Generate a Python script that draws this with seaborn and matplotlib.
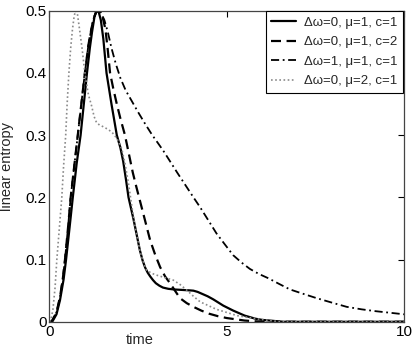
import numpy as np
import pandas as pd
import matplotlib
matplotlib.use("Agg")
import matplotlib.pyplot as plt
import seaborn as sns

# curves (time, linear entropy)
t_a = [0.0, 0.08, 0.2, 0.3, 0.4, 0.47, 0.57, 0.66, 0.77, 0.88, 0.97, 1.06, 1.14, 1.2, 1.27, 1.33,
       1.39, 1.45, 1.52, 1.61, 1.75, 1.9, 2.0, 2.08, 2.16, 2.23, 2.37, 2.46, 2.55, 2.63, 2.7, 2.77,
       2.84, 2.92, 3.0, 3.1, 3.2, 3.35, 3.5, 3.65, 3.8, 3.95, 4.06, 4.18, 4.3, 4.46, 4.62, 4.76,
       4.9, 5.04, 5.18, 5.34, 5.5, 5.65, 5.8, 6.0, 6.2, 6.4, 6.6, 7.0, 8.0, 9.0, 10.0]
s_a = [0.0, 0.0, 0.012, 0.035, 0.068, 0.1, 0.152, 0.2, 0.255, 0.3, 0.35, 0.4, 0.44, 0.465, 0.49, 0.5,
       0.498, 0.485, 0.455, 0.4, 0.35, 0.3, 0.28, 0.258, 0.228, 0.2, 0.165, 0.14, 0.115, 0.098, 0.087, 0.079,
       0.073, 0.067, 0.062, 0.058, 0.055, 0.053, 0.052, 0.0515, 0.051, 0.0505, 0.05, 0.048, 0.045, 0.041, 0.036, 0.031,
       0.026, 0.022, 0.018, 0.014, 0.01, 0.0075, 0.005, 0.003, 0.002, 0.001, 0.0, 0.0, 0.0, 0.0, 0.0]

t_b = [0.0, 0.06, 0.2, 0.3, 0.38, 0.44, 0.52, 0.6, 0.7, 0.8, 0.9, 1.0, 1.1, 1.18, 1.25, 1.31, 1.37,
       1.43, 1.5, 1.58, 1.64, 1.71, 1.8, 1.9, 2.0, 2.13, 2.24, 2.35, 2.45, 2.55, 2.7, 2.84, 2.98,
       3.12, 3.26, 3.4, 3.54, 3.68, 3.87, 4.06, 4.28, 4.5, 4.75, 5.0, 5.25, 5.5, 5.75, 6.0, 7.0, 8.0, 10.0]
s_b = [0.0, 0.0, 0.015, 0.04, 0.07, 0.1, 0.148, 0.2, 0.25, 0.3, 0.35, 0.4, 0.445, 0.47, 0.488, 0.497, 0.5,
       0.498, 0.49, 0.47, 0.44, 0.4, 0.375, 0.35, 0.327, 0.3, 0.27, 0.24, 0.217, 0.195, 0.162, 0.131, 0.108,
       0.088, 0.073, 0.062, 0.05, 0.038, 0.03, 0.024, 0.018, 0.013, 0.009, 0.006, 0.004, 0.002, 0.001, 0.0, 0.0, 0.0, 0.0]

t_c = [0.0, 0.06, 0.2, 0.3, 0.38, 0.44, 0.52, 0.6, 0.7, 0.8, 0.9, 1.0, 1.1, 1.18, 1.25, 1.31, 1.37,
       1.45, 1.55, 1.65, 1.75, 1.87, 2.0, 2.15, 2.32, 2.5, 2.7, 2.9, 3.05, 3.21, 3.4, 3.6, 3.83, 4.06,
       4.25, 4.48, 4.71, 4.95, 5.18, 5.42, 5.65, 5.9, 6.17, 6.47, 6.78, 7.15, 7.53, 7.95, 8.38, 8.8,
       9.2, 9.6, 10.0]
s_c = [0.0, 0.0, 0.015, 0.04, 0.07, 0.1, 0.148, 0.2, 0.25, 0.3, 0.35, 0.4, 0.445, 0.47, 0.488, 0.497, 0.5,
       0.497, 0.485, 0.465, 0.44, 0.415, 0.392, 0.372, 0.355, 0.337, 0.318, 0.3, 0.288, 0.275, 0.258, 0.24, 0.22, 0.2,
       0.184, 0.163, 0.142, 0.124, 0.107, 0.095, 0.085, 0.077, 0.07, 0.061, 0.052, 0.045, 0.038, 0.031, 0.024, 0.02,
       0.017, 0.0145, 0.012]

t_d = [0.0, 0.05, 0.1, 0.16, 0.21, 0.28, 0.35, 0.4, 0.46, 0.5, 0.55, 0.6, 0.65, 0.7, 0.74, 0.79, 0.85,
       0.92, 0.98, 1.04, 1.1, 1.19, 1.26, 1.33, 1.42, 1.5, 1.63, 1.76, 1.9, 2.04, 2.13, 2.23, 2.3,
       2.37, 2.46, 2.55, 2.64, 2.74, 2.88, 3.02, 3.25, 3.49, 3.68, 3.87, 4.06, 4.25, 4.48, 4.71, 5.0,
       5.28, 5.6, 5.94, 6.2, 6.5, 7.0, 8.0, 10.0]
s_d = [0.0, 0.005, 0.02, 0.055, 0.1, 0.15, 0.2, 0.25, 0.3, 0.35, 0.4, 0.44, 0.47, 0.492, 0.5, 0.495, 0.47,
       0.44, 0.41, 0.385, 0.365, 0.347, 0.33, 0.32, 0.316, 0.314, 0.31, 0.305, 0.295, 0.278, 0.255, 0.222, 0.195,
       0.168, 0.14, 0.115, 0.097, 0.083, 0.078, 0.075, 0.071, 0.067, 0.06, 0.051, 0.041, 0.032, 0.026, 0.02, 0.015,
       0.01, 0.007, 0.004, 0.002, 0.0, 0.0, 0.0, 0.0]

labels = ["\u0394\u03c9=0, \u03bc=1, c=1", "\u0394\u03c9=0, \u03bc=1, c=2",
          "\u0394\u03c9=1, \u03bc=1, c=1", "\u0394\u03c9=0, \u03bc=2, c=1"]

sns.set_style("white")
plt.rcParams['font.family'] = ['Liberation Sans', 'DejaVu Sans']

fig = plt.figure(figsize=(4.15, 3.46), dpi=100)
ax = fig.add_axes([0.119, 0.070, 0.855, 0.899])

series = [(t_a, s_a, "-", "black", 1.6),
          (t_b, s_b, (0, (4.5, 2.5)), "black", 1.6),
          (t_c, s_c, (0, (4.5, 2, 1, 2)), "black", 1.3),
          (t_d, s_d, (0, (1, 1.5)), "#8a8a8a", 1.2)]
for (tt, ss, ls, col, lw), lab in zip(series, labels):
    sns.lineplot(x=tt, y=ss, ax=ax, color=col, linestyle=ls, linewidth=lw,
                 label=lab, sort=False, estimator=None)

ax.set_xlim(0, 10)
ax.set_ylim(0, 0.5)
ax.set_xticks([0, 5, 10])
ax.set_xticklabels(["0", "5", "10"])
ax.set_yticks([0, 0.1, 0.2, 0.3, 0.4, 0.5])
ax.set_yticklabels(["0", "0.1", "0.2", "0.3", "0.4", "0.5"])
ax.tick_params(direction="in", length=4, width=0.8, top=True, right=True,
               labelsize=11, pad=2, colors="black")
for sp in ax.spines.values():
    sp.set_color("#444444")
    sp.set_linewidth(0.9)

ax.set_xlabel("time", fontsize=10.5)
ax.xaxis.set_label_coords(0.255, -0.035)
ax.set_ylabel("linear entropy", fontsize=10.5)
ax.yaxis.set_label_coords(-0.10, 0.5)

leg = ax.legend(loc="upper right", bbox_to_anchor=(0.997, 0.998), fontsize=9.5,
                frameon=True, fancybox=False, edgecolor="black", handlelength=1.9,
                handletextpad=0.6, borderpad=0.4, labelspacing=0.55, borderaxespad=0.0)
leg.get_frame().set_linewidth(0.8)
leg.get_frame().set_alpha(1)

fig.savefig("out.png", dpi=100)
